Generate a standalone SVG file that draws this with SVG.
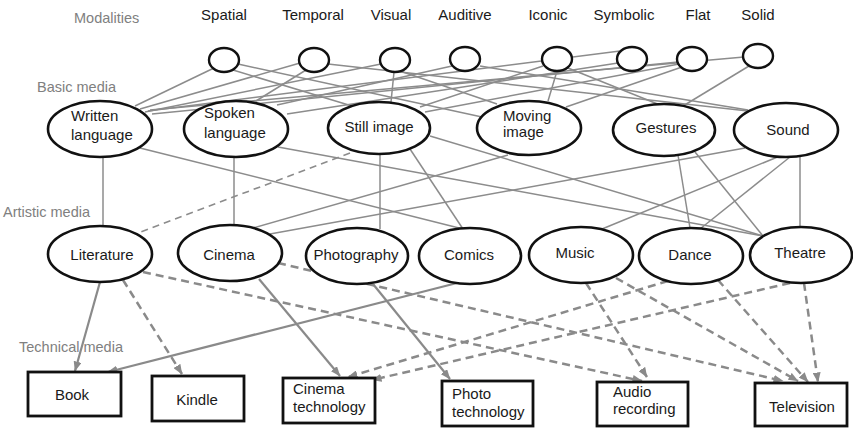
<svg xmlns="http://www.w3.org/2000/svg" width="853" height="428" viewBox="0 0 853 428">
  <defs>
    <marker id="arrow" viewBox="0 0 10 8" refX="9.5" refY="4" markerWidth="10" markerHeight="8" markerUnits="userSpaceOnUse" orient="auto">
      <path d="M0,0 L10,4 L0,8 z" fill="#8a8a8a"/>
    </marker>
  </defs>
  <style>
    text { font-family: "Liberation Sans", Arial, sans-serif; font-size: 15px; fill: #1a1a1a; }
    text.layer { fill: #808080; font-size: 14.5px; }
    .mod { fill: #fff; stroke: #111; stroke-width: 2.4; }
    .med { fill: #fff; stroke: #111; stroke-width: 2.6; }
    .tech { fill: #fff; stroke: #111; stroke-width: 2.8; }
    .link { stroke: #8c8c8c; stroke-width: 1.5; fill: none; }
    .solid { stroke: #8a8a8a; stroke-width: 2.2; fill: none; marker-end: url(#arrow); }
    .dash { stroke: #8a8a8a; stroke-width: 2.5; fill: none; stroke-dasharray: 8 5; marker-end: url(#arrow); }
    .mdash { stroke: #8c8c8c; stroke-width: 1.6; fill: none; stroke-dasharray: 7 5; }
  </style>

  <!-- layer captions -->
  <text class="layer" x="74" y="23">Modalities</text>
  <text class="layer" x="37" y="92">Basic media</text>
  <text class="layer" x="3" y="217">Artistic media</text>
  <text class="layer" x="19" y="352">Technical media</text>

  <g id="connectors">
    <!-- modalities to basic media -->
    <line class="link" x1="214" y1="68" x2="135" y2="106"/>
    <line class="link" x1="233" y1="70" x2="352" y2="106"/>
    <line class="link" x1="238" y1="64" x2="482" y2="117"/>
    <line class="link" x1="300" y1="63" x2="140" y2="109"/>
    <line class="link" x1="306" y1="70" x2="256" y2="101"/>
    <line class="link" x1="328" y1="64" x2="748" y2="111"/>
    <line class="link" x1="381" y1="64" x2="145" y2="112"/>
    <line class="link" x1="394" y1="72" x2="391" y2="102"/>
    <line class="link" x1="400" y1="71" x2="497" y2="104"/>
    <line class="link" x1="452" y1="66" x2="277" y2="105"/>
    <line class="link" x1="480" y1="66" x2="748" y2="110"/>
    <line class="link" x1="543" y1="66" x2="420" y2="107"/>
    <line class="link" x1="557" y1="71" x2="548" y2="101"/>
    <line class="link" x1="568" y1="68" x2="660" y2="105"/>
    <line class="link" x1="620" y1="51" x2="148" y2="111"/>
    <line class="link" x1="618" y1="63" x2="287" y2="114"/>
    <line class="link" x1="678" y1="62" x2="152" y2="114"/>
    <line class="link" x1="679" y1="64" x2="425" y2="112"/>
    <line class="link" x1="682" y1="67" x2="566" y2="107"/>
    <line class="link" x1="744" y1="57" x2="150" y2="110"/>
    <line class="link" x1="749" y1="66" x2="683" y2="106"/>

    <!-- basic media to artistic media -->
    <line class="link" x1="103" y1="157" x2="103" y2="227"/>
    <line class="link" x1="140" y1="148" x2="463" y2="229"/>
    <line class="link" x1="234" y1="157" x2="234" y2="226"/>
    <line class="link" x1="278" y1="147" x2="763" y2="236"/>
    <line class="mdash" x1="350" y1="153" x2="138" y2="233"/>
    <line class="link" x1="380" y1="153" x2="380" y2="229"/>
    <line class="link" x1="410" y1="149" x2="463" y2="229"/>
    <line class="link" x1="430" y1="136" x2="763" y2="236"/>
    <line class="link" x1="508" y1="155" x2="253" y2="228"/>
    <line class="link" x1="745" y1="148" x2="270" y2="234"/>
    <line class="link" x1="780" y1="156" x2="602" y2="229"/>
    <line class="link" x1="790" y1="157" x2="700" y2="229"/>
    <line class="link" x1="800" y1="157" x2="800" y2="227"/>
    <line class="link" x1="678" y1="155" x2="690" y2="228"/>
    <line class="link" x1="695" y1="152" x2="763" y2="236"/>

    <!-- artistic media to technical media -->
    <line class="solid" x1="100" y1="282" x2="75" y2="371"/>
    <line class="solid" x1="457" y1="283" x2="108" y2="372"/>
    <line class="solid" x1="259" y1="279" x2="340" y2="376"/>
    <line class="solid" x1="373" y1="284" x2="450" y2="379"/>
    <line class="dash" x1="123" y1="280" x2="182" y2="374"/>
    <line class="dash" x1="143" y1="272" x2="642" y2="381"/>
    <line class="dash" x1="278" y1="263" x2="783" y2="381"/>
    <line class="dash" x1="586" y1="283" x2="647" y2="377"/>
    <line class="dash" x1="616" y1="278" x2="798" y2="381"/>
    <line class="dash" x1="668" y1="281" x2="348" y2="377"/>
    <line class="dash" x1="718" y1="280" x2="808" y2="382"/>
    <line class="dash" x1="790" y1="283" x2="372" y2="380"/>
    <line class="dash" x1="804" y1="283" x2="818" y2="382"/>
  </g>

  <!-- modalities -->
  <g id="spatial"><ellipse class="mod" cx="224" cy="60" rx="15" ry="12"/><text x="224" y="20" text-anchor="middle">Spatial</text></g>
  <g id="temporal"><ellipse class="mod" cx="314" cy="60" rx="15" ry="12"/><text x="313" y="20" text-anchor="middle">Temporal</text></g>
  <g id="visual"><ellipse class="mod" cx="395" cy="60" rx="15" ry="12"/><text x="391" y="20" text-anchor="middle">Visual</text></g>
  <g id="auditive"><ellipse class="mod" cx="465" cy="59" rx="15" ry="12"/><text x="465" y="20" text-anchor="middle">Auditive</text></g>
  <g id="iconic"><ellipse class="mod" cx="557" cy="59" rx="15" ry="12"/><text x="548" y="20" text-anchor="middle">Iconic</text></g>
  <g id="symbolic"><ellipse class="mod" cx="632" cy="59" rx="15" ry="12"/><text x="624" y="20" text-anchor="middle">Symbolic</text></g>
  <g id="flat"><ellipse class="mod" cx="692" cy="59" rx="15" ry="12"/><text x="698" y="20" text-anchor="middle">Flat</text></g>
  <g id="solid"><ellipse class="mod" cx="758" cy="56" rx="15" ry="12"/><text x="758" y="20" text-anchor="middle">Solid</text></g>

  <!-- basic media -->
  <g id="written-language"><ellipse class="med" cx="100" cy="129" rx="52" ry="28"/><text x="71" y="121">Written</text><text x="71" y="140">language</text></g>
  <g id="spoken-language"><ellipse class="med" cx="236" cy="129" rx="52" ry="28"/><text x="204" y="118">Spoken</text><text x="204" y="138">language</text></g>
  <g id="still-image"><ellipse class="med" cx="379" cy="128" rx="51" ry="26"/><text x="379" y="132" text-anchor="middle">Still image</text></g>
  <g id="moving-image"><ellipse class="med" cx="529" cy="128" rx="52" ry="27"/><text x="503" y="121">Moving</text><text x="503" y="137">image</text></g>
  <g id="gestures"><ellipse class="med" cx="664" cy="130" rx="51" ry="26"/><text x="666" y="133" text-anchor="middle">Gestures</text></g>
  <g id="sound"><ellipse class="med" cx="786" cy="130" rx="52" ry="27"/><text x="788" y="135" text-anchor="middle">Sound</text></g>

  <!-- artistic media -->
  <g id="literature"><ellipse class="med" cx="100" cy="254" rx="52" ry="28"/><text x="102" y="260" text-anchor="middle">Literature</text></g>
  <g id="cinema"><ellipse class="med" cx="230" cy="253" rx="52" ry="28"/><text x="229" y="260" text-anchor="middle">Cinema</text></g>
  <g id="photography"><ellipse class="med" cx="357" cy="256" rx="51" ry="28"/><text x="356" y="260" text-anchor="middle">Photography</text></g>
  <g id="comics"><ellipse class="med" cx="470" cy="256" rx="51" ry="28"/><text x="469" y="260" text-anchor="middle">Comics</text></g>
  <g id="music"><ellipse class="med" cx="581" cy="255" rx="52" ry="28"/><text x="575" y="258" text-anchor="middle">Music</text></g>
  <g id="dance"><ellipse class="med" cx="691" cy="256" rx="52" ry="28"/><text x="690" y="260" text-anchor="middle">Dance</text></g>
  <g id="theatre"><ellipse class="med" cx="801" cy="255" rx="51" ry="28"/><text x="800" y="258" text-anchor="middle">Theatre</text></g>

  <!-- technical media -->
  <g id="book"><rect class="tech" x="28" y="372" width="93" height="44"/><text x="72" y="400" text-anchor="middle">Book</text></g>
  <g id="kindle"><rect class="tech" x="152" y="376" width="92" height="45"/><text x="197" y="405" text-anchor="middle">Kindle</text></g>
  <g id="cinema-technology"><rect class="tech" x="283" y="378" width="92" height="45"/><text x="293" y="394">Cinema</text><text x="293" y="412">technology</text></g>
  <g id="photo-technology"><rect class="tech" x="442" y="381" width="91" height="45"/><text x="452" y="399">Photo</text><text x="452" y="417">technology</text></g>
  <g id="audio-recording"><rect class="tech" x="597" y="382" width="91" height="44"/><text x="613" y="397">Audio</text><text x="613" y="414">recording</text></g>
  <g id="television"><rect class="tech" x="755" y="383" width="92" height="43"/><text x="802" y="412" text-anchor="middle">Television</text></g>
</svg>
